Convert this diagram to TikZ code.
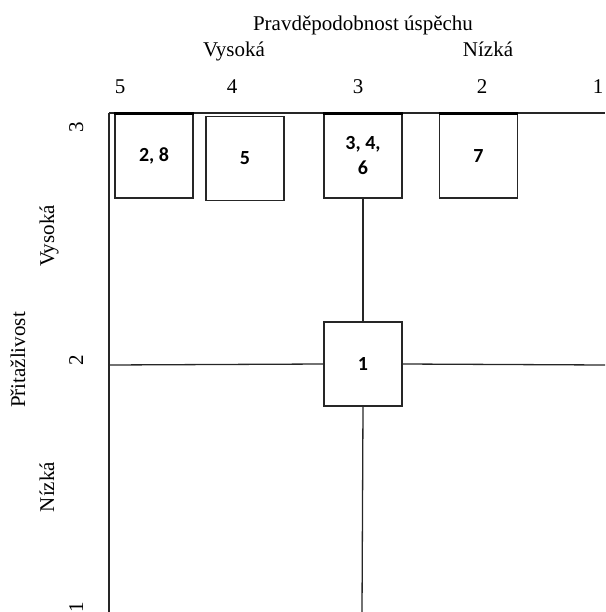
\documentclass[tikz,border=0pt]{standalone}
\usepackage{fontspec}
\setmainfont{Liberation Serif}
\newfontfamily\boxfont{Carlito}
\begin{document}
\begin{tikzpicture}[x=1pt,y=-1pt,
  axis/.style={line width=1.3pt, black!85},
  grid/.style={line width=1.3pt, black!85},
  item/.style={draw=black!85, line width=1.3pt, fill=white, minimum width=78pt,
    minimum height=84pt, inner sep=0pt, align=center,
    font=\boxfont\bfseries\fontsize{20}{25}\selectfont},
  lbl/.style={font=\fontsize{21}{24}\selectfont, inner sep=0pt, anchor=base},
  toped/.style={line width=2.8pt, black}]
\useasboundingbox (0,0) rectangle (605,612);

% horizontal axis: title, verbal scale and numbers
\node[lbl] (title) at (363,31) {Pravděpodobnost úspěchu};
\node[lbl] (hi) at (234,57) {Vysoká};
\node[lbl] (lo) at (488,57) {Nízká};
\node[lbl] (x5) at (120,93.5) {5};
\node[lbl] (x4) at (232,93.5) {4};
\node[lbl] (x3) at (358,93.5) {3};
\node[lbl] (x2) at (482,93.5) {2};
\node[lbl] (x1) at (598,93.5) {1};

% vertical axis, read bottom to top
\node[lbl, rotate=90] (ytitle) at (25,360) {Přitažlivost};
\node[lbl, rotate=90] (yhi) at (54,236) {Vysoká};
\node[lbl, rotate=90] (ylo) at (54,487) {Nízká};
\node[lbl, rotate=90] (y3) at (83,127.5) {3};
\node[lbl, rotate=90] (y2) at (83,360) {2};
\node[lbl, rotate=90] (y1) at (83,607) {1};

% frame lines
\coordinate (tl) at (109,113);
\coordinate (tr) at (605,113);
\coordinate (bl) at (109,612);
\coordinate (ml) at (109,365);
\coordinate (mr) at (605,365);
\coordinate (mb) at (362,612);
\draw[axis] (tl) -- (tr);
\draw[axis] (tl) -- (bl);

% items
\node[item] (b28) at (154,156) {2, 8};
\node[item] (b5) at (245,158.5) {5};
\node[item] (b346) at (363,156) {3, 4,\\6};
\node[item] (b7) at (478.5,156) {7};
\node[item] (b1) at (363,364) {1};

\foreach \b in {b28,b346,b7}
  \draw[toped] (\b.north west) -- (\b.north east);

% grid lines through item 1
\draw[grid] (b346.south) -- (b1.north);
\draw[grid] (b1.south) -- (mb);
\draw[grid] (ml) -- (b1.west);
\draw[grid] (b1.east) -- (mr);
\end{tikzpicture}
\end{document}
